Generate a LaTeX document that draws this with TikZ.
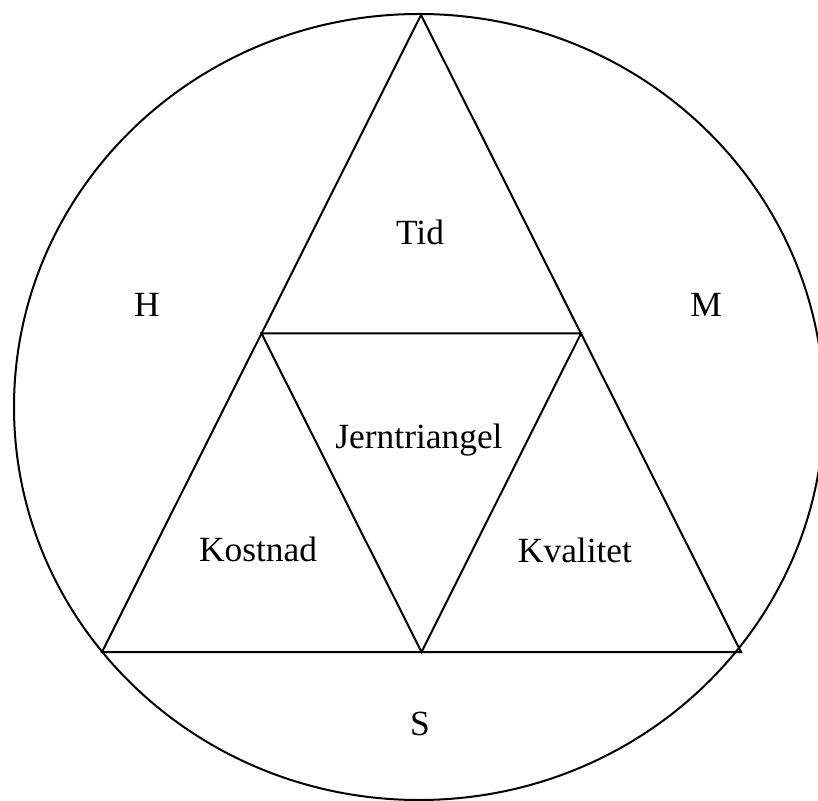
\documentclass[tikz,border=0pt]{standalone}
\usepackage{fontspec}
\setmainfont{Liberation Serif}
\usetikzlibrary{calc}
\tikzset{
	rim/.style={draw, line width=1pt},
	side/.style={draw, line width=1pt, line join=miter},
	txt/.style={inner sep=0pt, font=\fontsize{17.7}{21}\selectfont}
}
\begin{document}
\begin{tikzpicture}[x=0.5pt, y=-0.5pt]
	\useasboundingbox (0,0) rectangle (818,801);
	% Outer circle
	\draw[rim] (419,407) ellipse [x radius=405, y radius=393];
	% Corners of the big triangle
	\coordinate (top) at (421,15);
	\coordinate (bl) at (102,652);
	\coordinate (br) at (741,652);
	% Midpoints
	\coordinate (ml) at ($(top)!0.5!(bl)$);
	\coordinate (mr) at ($(top)!0.5!(br)$);
	\coordinate (mb) at ($(bl)!0.5!(br)$);
	\draw[side] (top) -- (bl) -- (br) -- cycle;
	\draw[side] (ml) -- (mr) -- (mb) -- cycle;
	% Labels
	\node[txt] (tid) at (420,232) {Tid};
	\node[txt] (jern) at (419,440) {Jerntriangel};
	\node[txt] (kost) at (258,549) {Kostnad};
	\node[txt] (kval) at (575,550) {Kvalitet};
	\node[txt] (h) at (147,305) {H};
	\node[txt] (m) at (706,305) {M};
	\node[txt] (s) at (420,724) {S};
\end{tikzpicture}
\end{document}
